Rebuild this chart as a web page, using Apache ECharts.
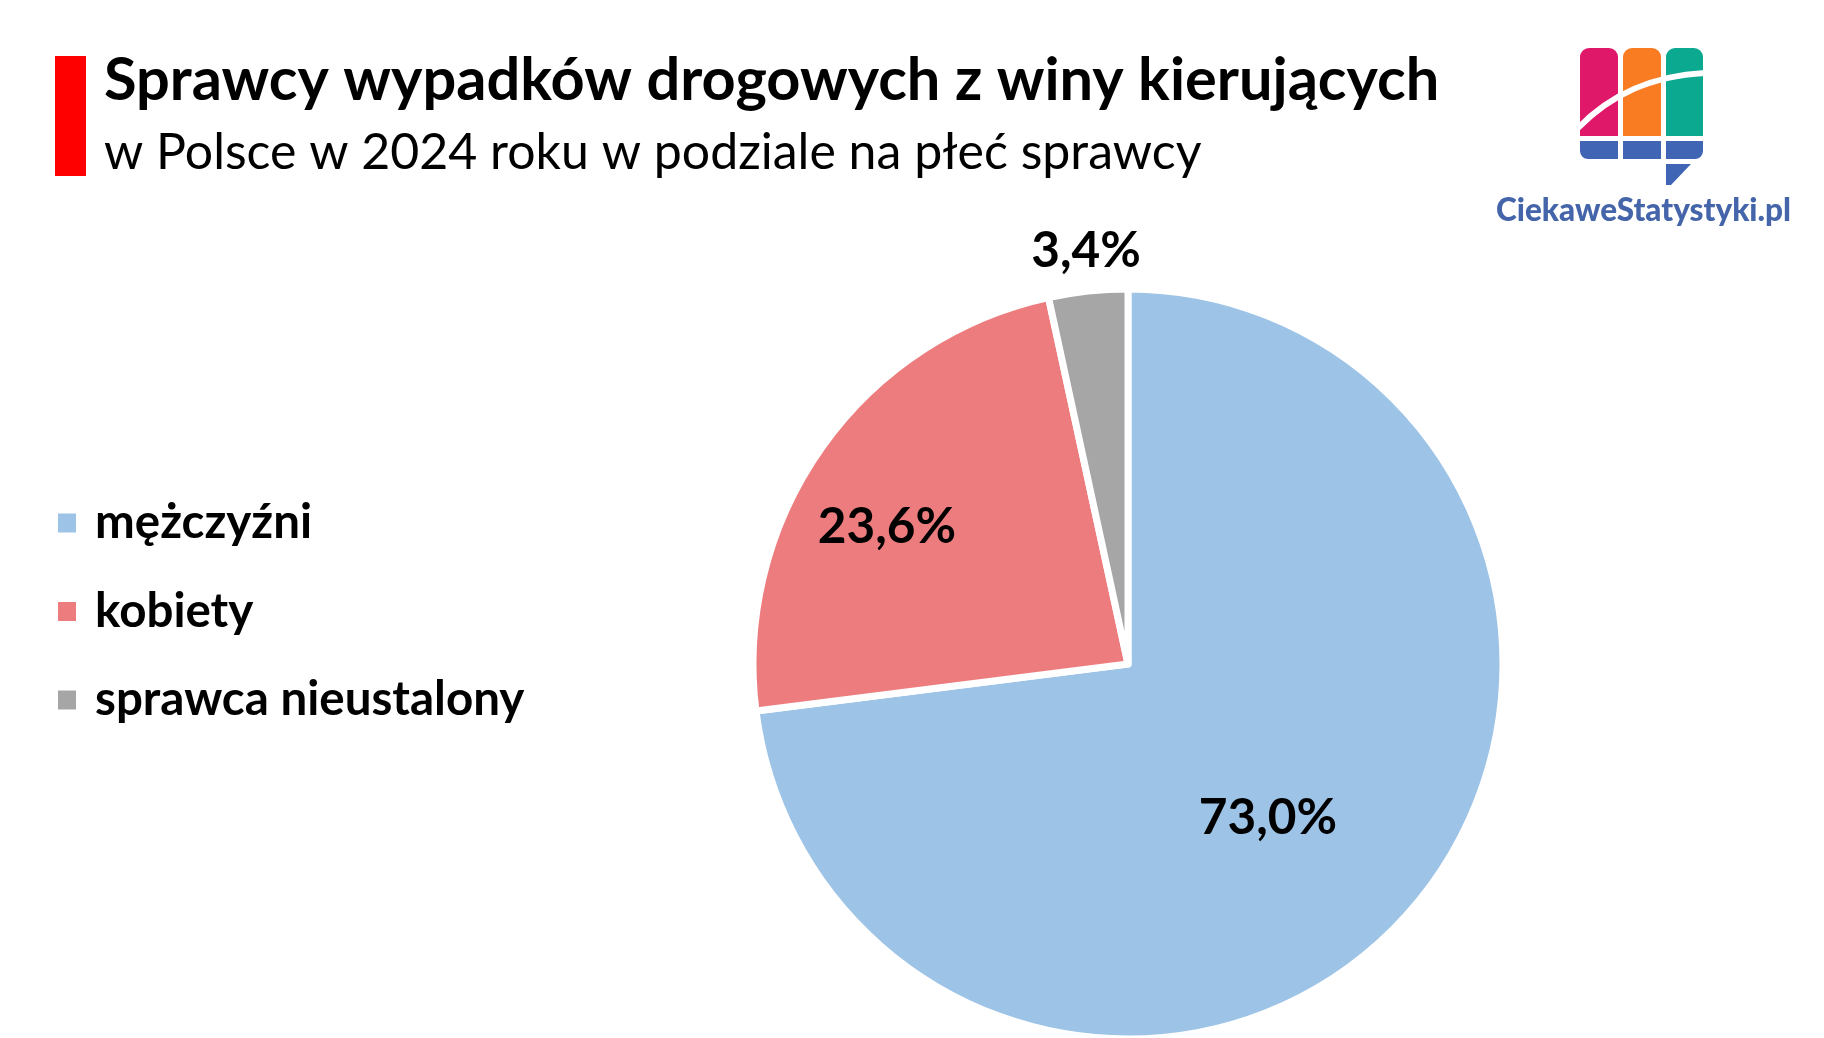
<!DOCTYPE html>
<html>
<head>
<meta charset="utf-8">
<title>Sprawcy wypadków drogowych</title>
<script src="https://cdn.jsdelivr.net/npm/echarts@6/dist/echarts.min.js"></script>
<style>
    html, body {margin: 0; padding: 0; background: #fff;}
    #chart {width: 1824px; height: 1038px;}
</style>
</head>
<body>
<div id="chart"></div>
<script>
const categories = ['mężczyźni', 'kobiety', 'sprawca nieustalony'];
const shares = [73.0, 23.6, 3.4];
const slice_colors = ['#9DC3E6', '#ED7C7F', '#A6A6A6'];
const title_text = 'Sprawcy wypadków drogowych z winy kierujących';
const subtitle_text = 'w Polsce w 2024 roku w podziale na płeć sprawcy';
const logo_text = 'CiekaweStatystyki.pl';

const font = 'Lato';
// centre of each percentage label, same order as categories
const label_centres = [[1268, 818], [887, 527], [1086, 251]];

function gen_logo() {
    const blue = '#4065B5';
    return [
        {type: 'rect', shape: {x: 1580, y: 48, width: 38, height: 88, r: [9, 9, 0, 0]}, style: {fill: '#E0186A'}},
        {type: 'rect', shape: {x: 1623, y: 48, width: 38, height: 88, r: [9, 9, 0, 0]}, style: {fill: '#F97B22'}},
        {type: 'rect', shape: {x: 1666, y: 48, width: 37, height: 88, r: [9, 9, 0, 0]}, style: {fill: '#0BA98F'}},
        {
            type: 'bezierCurve',
            shape: {x1: 1578, y1: 128, cpx1: 1610, cpy1: 95, cpx2: 1650, cpy2: 76, x2: 1705, y2: 73},
            style: {stroke: '#fff', lineWidth: 6, fill: 'none'}
        },
        {type: 'rect', shape: {x: 1580, y: 141, width: 38, height: 18, r: [0, 0, 0, 8]}, style: {fill: blue}},
        {type: 'rect', shape: {x: 1623, y: 141, width: 38, height: 18}, style: {fill: blue}},
        {type: 'rect', shape: {x: 1666, y: 141, width: 37, height: 18, r: [0, 0, 8, 0]}, style: {fill: blue}},
        {
            type: 'polygon',
            shape: {points: [[1666, 164], [1691, 164], [1671, 185], [1666, 185]]},
            style: {fill: blue}
        },
        {
            type: 'text',
            style: {
                x: 1496, y: 195, text: logo_text, fill: '#4465A9',
                font: '900 31.5px Lato', textAlign: 'left', textBaseline: 'top'
            }
        }
    ];
}

let chart = echarts.init(document.getElementById('chart'), null, {renderer: 'canvas'});

let option = {
    animation: false,
    backgroundColor: '#fff',
    title: [{
        text: title_text,
        left: 104,
        top: 49,
        padding: 0,
        textStyle: {fontFamily: font, fontWeight: 'bold', fontSize: 59.5, color: '#000', lineHeight: 64}
    }, {
        text: subtitle_text,
        left: 104,
        top: 123,
        padding: 0,
        textStyle: {fontFamily: font, fontWeight: 'normal', fontSize: 50, color: '#000', lineHeight: 60}
    }],
    legend: {
        orient: 'vertical',
        left: 56,
        top: 498,
        padding: 0,
        icon: 'rect',
        itemWidth: 20,
        itemHeight: 21,
        itemGap: 38.5,
        selectedMode: false,
        textStyle: {fontFamily: font, fontWeight: 'bold', fontSize: 47.5, color: '#000', padding: [0, 0, 0, 13], lineHeight: 50},
        data: categories
    },
    graphic: [
        {type: 'rect', shape: {x: 55, y: 56, width: 31, height: 120}, style: {fill: '#FF0000'}},
        ...gen_logo()
    ],
    series: [{
        type: 'pie',
        center: [1128, 664],
        radius: [0, 375],
        startAngle: 90,
        avoidLabelOverlap: false,
        emphasis: {disabled: true},
        itemStyle: {borderColor: '#fff', borderWidth: 7},
        label: {
            position: 'inside',
            fontFamily: font,
            fontWeight: 'bold',
            fontSize: 49.5,
            color: '#000',
            formatter: (p) => p.value.toFixed(1).replace('.', ',') + '%'
        },
        labelLine: {show: false},
        labelLayout: (p) => ({
            x: label_centres[p.dataIndex][0],
            y: label_centres[p.dataIndex][1],
            align: 'center',
            verticalAlign: 'middle'
        }),
        data: categories.map((name, i) => ({
            name: name,
            value: shares[i],
            itemStyle: {color: slice_colors[i]}
        }))
    }]
};

chart.setOption(option);
</script>
</body>
</html>
